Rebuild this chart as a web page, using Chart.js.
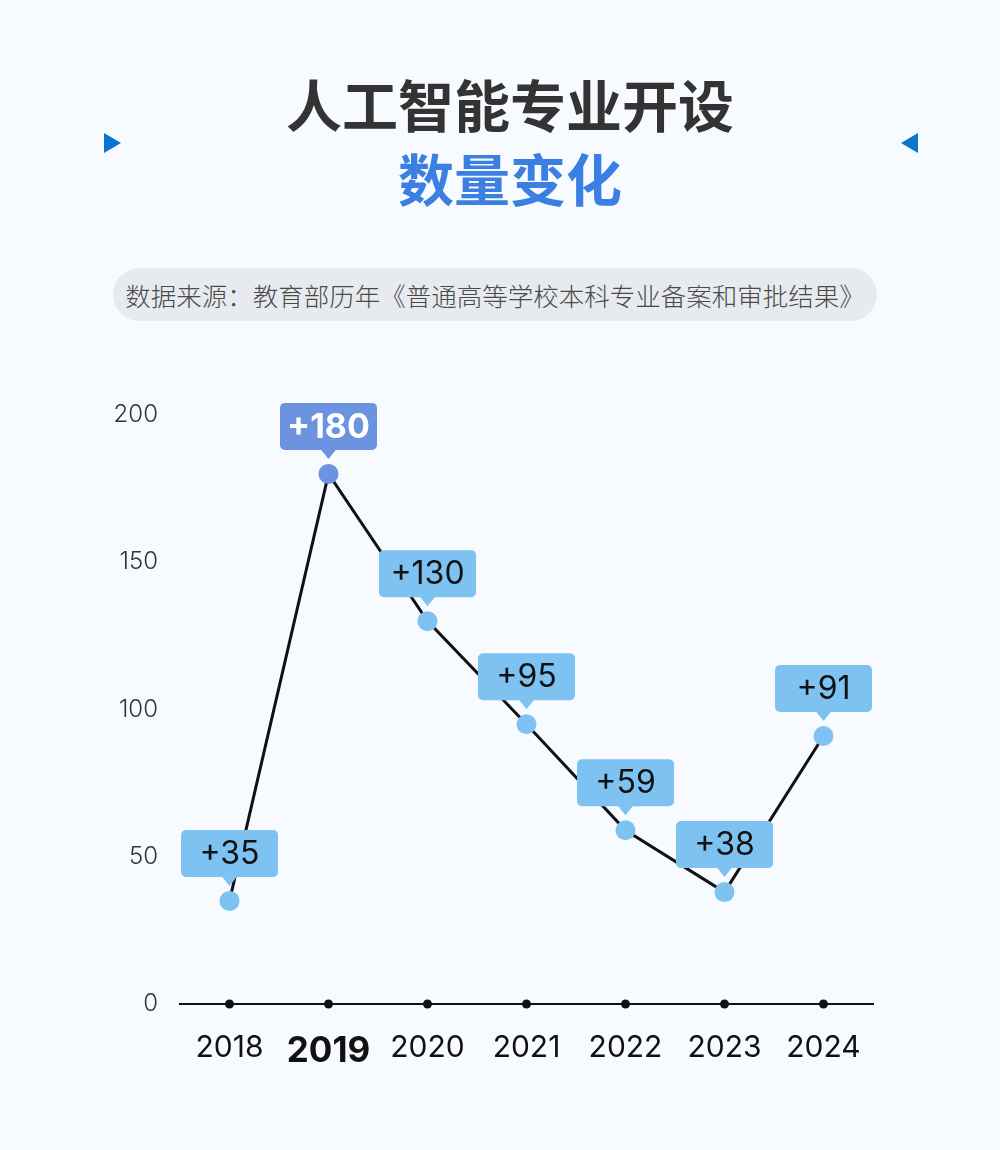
<!DOCTYPE html>
<html>
<head>
<meta charset="utf-8">
<script src="https://cdn.jsdelivr.net/npm/chart.js@4"></script>
<style>
  html, body { margin: 0; padding: 0; background: #f7fbff; }
  body { width: 1000px; height: 1150px; position: relative; overflow: hidden;
         font-family: "Noto Sans CJK SC", "Noto Sans", sans-serif; }
  .t1, .t2 { position: absolute; left: 10px; width: 1000px; text-align: center; font-weight: 700;
             font-size: 56px; line-height: 60px; }
  .t1 { top: 73px; color: #333; }
  .t2 { top: 147px; color: #3b7fe2; }
  .tri { position: absolute; top: 133px; width: 0; height: 0;
         border-top: 10px solid transparent; border-bottom: 10px solid transparent; }
  .tri.l { left: 104px; border-left: 17px solid #0b74d1; }
  .tri.r { left: 901px; border-right: 17px solid #0b74d1; }
  .pill { position: absolute; left: 113px; top: 268px; width: 764px; height: 53px;
          border-radius: 27px; background: #e7eaee; color: #4a4a4a; font-size: 25.5px;
          font-weight: 300; line-height: 53px; text-align: center; white-space: nowrap; }
  #wrap { position: absolute; left: 0; top: 360px; width: 1000px; height: 740px; }
</style>
</head>
<body>
<div class="tri l"></div>
<div class="tri r"></div>
<div class="t1">人工智能专业开设</div>
<div class="t2">数量变化</div>
<div class="pill">数据来源：教育部历年《普通高等学校本科专业备案和审批结果》</div>
<div id="wrap"><canvas id="chart"></canvas></div>

<script>
  // ====== 数据 ======
  const years = ['2018', '2019', '2020', '2021', '2022', '2023', '2024'];
  const counts = [35, 180, 130, 95, 59, 38, 91];
  const highlight = '2019';
  const yTicks = [0, 50, 100, 150, 200];

  const LIGHT = '#7dc2f0';
  const DARK = '#6c93e0';
  const FONT = 'Inter, "Noto Sans", sans-serif';
  const colorFor = (i) => years[i] === highlight ? DARK : LIGHT;

  // 数值标签（圆角框 + 小三角）
  const labelPlugin = {
    id: 'valueLabels',
    afterDatasetDraw(chart, args) {
      if (args.index !== 0) return;
      const ctx = chart.ctx;
      const x = chart.scales.x, y = chart.scales.y;
      const w = 97, h = 47, r = 5;
      counts.forEach((v, i) => {
        const px = x.getPixelForValue(i);
        const py = y.getPixelForValue(v);
        const bottom = py - 24, top = bottom - h, left = px - w / 2;
        ctx.save();
        ctx.fillStyle = colorFor(i);
        ctx.beginPath();
        ctx.roundRect(left, top, w, h, r);
        ctx.fill();
        ctx.beginPath();
        ctx.moveTo(px - 8, bottom - 1);
        ctx.lineTo(px + 8, bottom - 1);
        ctx.lineTo(px, bottom + 9);
        ctx.closePath();
        ctx.fill();
        const hi = years[i] === highlight;
        ctx.fillStyle = hi ? '#fff' : '#111';
        ctx.font = (hi ? '700 34px ' : '400 32px ') + FONT;
        ctx.textAlign = 'center';
        ctx.textBaseline = 'middle';
        ctx.fillText('+' + v, px, top + h / 2 + 1);
        ctx.restore();
      });
    }
  };

  new Chart(document.getElementById('chart'), {
    type: 'line',
    data: {
      labels: years,
      datasets: [{
        data: counts,
        borderColor: '#111',
        borderWidth: 3,
        pointRadius: 0,
        tension: 0,
        order: 3
      }, {
        data: counts,
        showLine: false,
        pointRadius: 10,
        pointHoverRadius: 10,
        pointBorderWidth: 0,
        pointBackgroundColor: counts.map((v, i) => colorFor(i)),
        order: 1,
        clip: false
      }, {
        data: years.map(() => 0),
        showLine: false,
        pointRadius: 4.5,
        pointBorderWidth: 0,
        pointBackgroundColor: '#111',
        order: 2,
        clip: false
      }]
    },
    plugins: [labelPlugin],
    options: {
      responsive: true,
      maintainAspectRatio: false,
      animation: false,
      layout: { padding: { top: 55, right: 127, left: 0, bottom: 0 } },
      plugins: { legend: { display: false }, tooltip: { enabled: false } },
      scales: {
        x: {
          offset: true,
          grid: { display: false },
          border: { display: true, color: '#111', width: 2 },
          afterFit: (s) => { s.height = 96; },
          ticks: {
            padding: 18,
            color: '#111',
            font: (c) => ({
              family: FONT,
              size: years[c.index] === highlight ? 35 : 30,
              weight: years[c.index] === highlight ? '700' : '400'
            })
          }
        },
        y: {
          min: 0,
          max: 200,
          grid: { display: false },
          border: { display: false },
          afterFit: (s) => { s.width = 180; },
          afterBuildTicks: (s) => { s.ticks = yTicks.map(v => ({ value: v })); },
          ticks: {
            padding: 14,
            color: '#333',
            font: { family: FONT, size: 24, weight: '300' }
          }
        }
      }
    }
  });
</script>
</body>
</html>
